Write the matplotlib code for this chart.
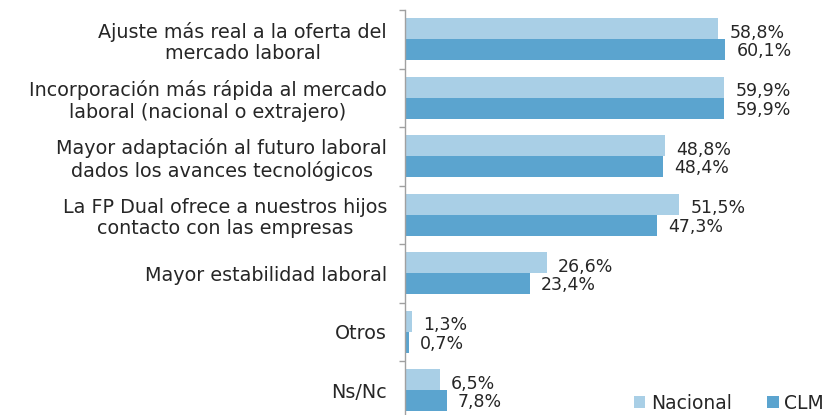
import matplotlib
matplotlib.use("Agg")
import matplotlib.pyplot as plt
import numpy as np
from matplotlib.ticker import FixedLocator, NullFormatter

categories = [
    "Ajuste más real a la oferta del\nmercado laboral",
    "Incorporación más rápida al mercado\nlaboral (nacional o extrajero)",
    "Mayor adaptación al futuro laboral\ndados los avances tecnológicos",
    "La FP Dual ofrece a nuestros hijos\ncontacto con las empresas",
    "Mayor estabilidad laboral",
    "Otros",
    "Ns/Nc",
]
nacional = [58.8, 59.9, 48.8, 51.5, 26.6, 1.3, 6.5]
clm = [60.1, 59.9, 48.4, 47.3, 23.4, 0.7, 7.8]
series_names = ["Nacional", "CLM"]

col_nac = "#A9CFE6"
col_clm = "#5BA4CF"
txt_col = "#262626"
fs_cat = 13.8
fs_val = 12.5
fs_leg = 13.5

plt.rcParams["font.family"] = ["DejaVu Sans"]

fig = plt.figure(figsize=(8.26, 4.15), dpi=100)
ax = fig.add_axes([405 / 826, -4.5 / 415, 1 - 405 / 826, 409.5 / 415])

n = len(categories)
y = np.arange(n)
h = 0.36
ax.barh(y - h / 2, nacional, height=h, color=col_nac, label=series_names[0])
ax.barh(y + h / 2, clm, height=h, color=col_clm, label=series_names[1])

for yi, v in zip(y, nacional):
    ax.annotate(f"{v:.1f}%".replace(".", ","), (v, yi - h / 2), xytext=(8, -3),
                textcoords="offset points", va="center", ha="left",
                fontsize=fs_val, color=txt_col)
for yi, v in zip(y, clm):
    ax.annotate(f"{v:.1f}%".replace(".", ","), (v, yi + h / 2), xytext=(8, -1),
                textcoords="offset points", va="center", ha="left",
                fontsize=fs_val, color=txt_col)

ax.set_ylim(n - 0.5, -0.5)
ax.set_xlim(0, 79)
ax.set_yticks(y)
ax.set_yticklabels(categories, fontsize=fs_cat, color=txt_col,
                   linespacing=1.15, multialignment="center")
ax.tick_params(axis="y", which="major", length=0, pad=13)
ax.yaxis.set_minor_locator(FixedLocator(np.arange(-0.5, n, 1.0)))
ax.yaxis.set_minor_formatter(NullFormatter())
ax.tick_params(axis="y", which="minor", length=4, color="#A0A0A0", width=1)
ax.set_xticks([])
for s in ["top", "right", "bottom"]:
    ax.spines[s].set_visible(False)
ax.spines["left"].set_color("#A0A0A0")
ax.spines["left"].set_linewidth(1)

leg = fig.legend(loc="lower right", bbox_to_anchor=(1.018, -0.035), ncol=2,
                 frameon=False, fontsize=fs_leg, handlelength=0.6,
                 handleheight=0.6, handletextpad=0.3, columnspacing=1.9)
for t in leg.get_texts():
    t.set_color(txt_col)

fig.savefig("out.png", dpi=100)
